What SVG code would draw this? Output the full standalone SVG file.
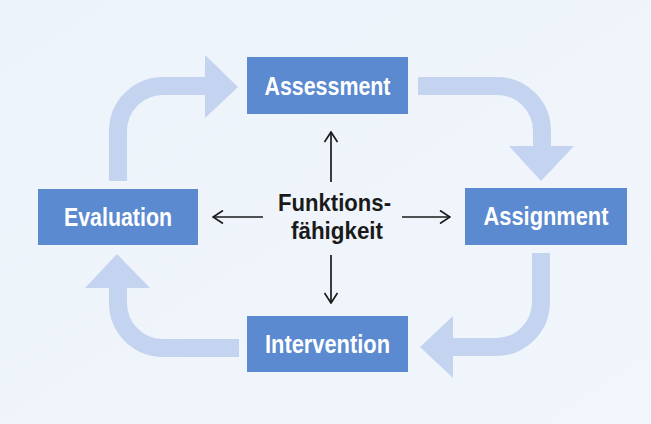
<svg xmlns="http://www.w3.org/2000/svg" width="651" height="424" viewBox="0 0 651 424">
  <defs>
    <linearGradient id="bg" x1="0" y1="0" x2="1" y2="1">
      <stop offset="0" stop-color="#edf3fa"/>
      <stop offset="1" stop-color="#f1f6fc"/>
    </linearGradient>
    <marker id="chev" viewBox="0 0 12 14" refX="11" refY="7" markerWidth="12" markerHeight="14" markerUnits="userSpaceOnUse" orient="auto">
      <path d="M1,0.5 L11,7 L1,13.5" fill="none" stroke="#1a1a1a" stroke-width="1.7"/>
    </marker>
  </defs>
  <style>
    .box { fill: #5b8ad0; }
    .lbl { font-family: "Liberation Sans Narrow", "Liberation Sans", Arial, sans-serif; font-weight: bold; font-size: 25px; fill: #ffffff; text-anchor: middle; }
    .ctr { font-family: "Liberation Sans Narrow", "Liberation Sans", Arial, sans-serif; font-weight: bold; font-size: 24px; fill: #1a1a1a; text-anchor: middle; }
    .band { fill: none; stroke: #c4d4f0; stroke-width: 18; }
    .head { fill: #c4d4f0; }
    .thin { fill: none; stroke: #1a1a1a; stroke-width: 1.7; marker-end: url(#chev); }
  </style>
  <rect width="651" height="424" fill="url(#bg)"/>

  <g id="connectors">
    <g id="cycle-eval-assess">
      <path class="band" d="M118,181 V131 A45,45 0 0 1 163,86 H207"/>
      <polygon class="head" points="205,55 238,87 205,118"/>
    </g>
    <g id="cycle-assess-assign">
      <path class="band" d="M418,86 H497 A45,45 0 0 1 542,131 V148"/>
      <polygon class="head" points="509,146 574,146 541,181"/>
    </g>
    <g id="cycle-assign-interv">
      <path class="band" d="M541,253 V302 A45,45 0 0 1 496,347 H451"/>
      <polygon class="head" points="453,316 453,378 420,347"/>
    </g>
    <g id="cycle-interv-eval">
      <path class="band" d="M239,348 H163 A45,45 0 0 1 118,303 V286"/>
      <polygon class="head" points="85,288 150,288 117,254"/>
    </g>
    <line class="thin" x1="331" y1="182" x2="331" y2="132"/>
    <line class="thin" x1="331" y1="255" x2="331" y2="303"/>
    <line class="thin" x1="263" y1="217" x2="213" y2="217"/>
    <line class="thin" x1="402" y1="217" x2="450" y2="217"/>
  </g>

  <g id="assessment">
    <rect class="box" x="247" y="57" width="161" height="57"/>
    <text class="lbl" x="327.5" y="95" textLength="126" lengthAdjust="spacingAndGlyphs">Assessment</text>
  </g>
  <g id="assignment">
    <rect class="box" x="465" y="188" width="162" height="57"/>
    <text class="lbl" x="546" y="225" textLength="125" lengthAdjust="spacingAndGlyphs">Assignment</text>
  </g>
  <g id="evaluation">
    <rect class="box" x="38" y="189" width="160" height="56"/>
    <text class="lbl" x="118" y="226" textLength="108" lengthAdjust="spacingAndGlyphs">Evaluation</text>
  </g>
  <g id="intervention">
    <rect class="box" x="247" y="316" width="161" height="56"/>
    <text class="lbl" x="327.5" y="353" textLength="125" lengthAdjust="spacingAndGlyphs">Intervention</text>
  </g>
  <g id="funktionsfaehigkeit">
    <text class="ctr" x="334.5" y="211" textLength="113" lengthAdjust="spacingAndGlyphs">Funktions-</text>
    <text class="ctr" x="337" y="239" textLength="92" lengthAdjust="spacingAndGlyphs">fähigkeit</text>
  </g>
</svg>
